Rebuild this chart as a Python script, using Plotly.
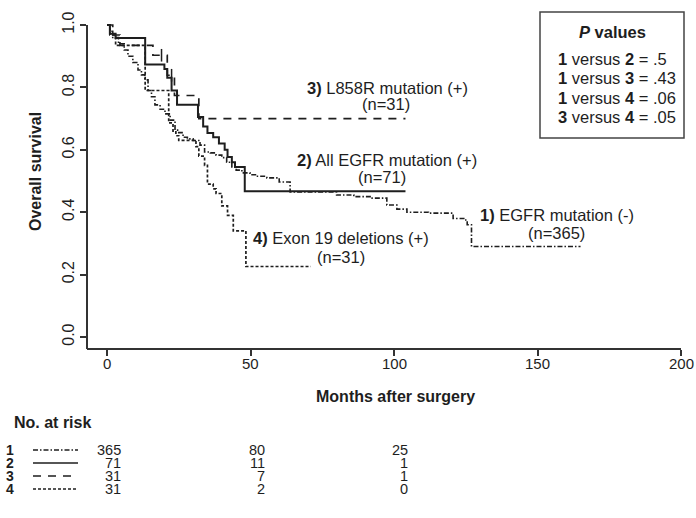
import plotly.graph_objects as go

# ---------------- data ----------------
# Group 1: EGFR mutation (-), n=365
g1_t = [0, 1, 2, 4, 6, 7.3, 9, 10.8, 12, 13.2, 14.3, 15.5, 16.7, 18.5, 20.2, 22, 23.7, 25, 26.5, 28,
        30, 32.4, 34, 36, 38, 40, 41.7, 43.5, 45, 47, 49.8, 52, 55.7, 60, 63.8, 80, 86, 92, 97.5,
        101, 104.5, 112, 120.6, 124.7, 125.5, 127, 165]
g1_s = [1.0, 0.98, 0.96, 0.94, 0.92, 0.90, 0.88, 0.856, 0.84, 0.824, 0.79, 0.77, 0.744, 0.73, 0.715,
        0.695, 0.663, 0.655, 0.64, 0.635, 0.63, 0.615, 0.593, 0.59, 0.583, 0.575, 0.56, 0.545, 0.535,
        0.526, 0.52, 0.515, 0.51, 0.497, 0.465, 0.455, 0.45, 0.445, 0.423, 0.41, 0.40, 0.397, 0.38,
        0.375, 0.36, 0.29, 0.29]
# Group 2: All EGFR mutation (+), n=71
g2_t = [0, 1, 3, 13.3, 20, 21, 22.5, 24.4, 31.7, 33.5, 35, 37, 39, 41, 42, 43.5, 44.6, 48, 104]
g2_s = [1.0, 0.972, 0.958, 0.873, 0.859, 0.831, 0.79, 0.744, 0.705, 0.675, 0.654, 0.64, 0.62, 0.60,
        0.577, 0.56, 0.545, 0.467, 0.467]
# Group 3: L858R mutation (+), n=31
g3_t = [0, 2, 4.5, 16, 21, 23.5, 32, 104]
g3_s = [1.0, 0.968, 0.935, 0.903, 0.839, 0.774, 0.70, 0.70]
g3_cens_t = [19, 22.5]
g3_cens_s = [0.903, 0.839]
# Group 4: Exon 19 deletions (+), n=31
g4_t = [0, 1, 3, 13.3, 21.5, 23, 24, 25, 31, 32, 34, 35, 37, 38, 40, 42, 44, 48.4, 71]
g4_s = [1.0, 0.968, 0.935, 0.79, 0.686, 0.66, 0.645, 0.63, 0.61, 0.58, 0.55, 0.49, 0.475, 0.46,
        0.42, 0.39, 0.34, 0.226, 0.226]

x_ticks = [0, 50, 100, 150, 200]
y_ticks = [0.0, 0.2, 0.4, 0.6, 0.8, 1.0]

risk_groups = ["1", "2", "3", "4"]
risk_times = [0, 50, 100]
risk_values = [[365, 80, 25], [71, 11, 1], [31, 7, 1], [31, 2, 0]]

curve_labels = [
    ("<b>3)</b> L858R mutation (+)", "(n=31)"),
    ("<b>2)</b> All EGFR mutation (+)", "(n=71)"),
    ("<b>1)</b> EGFR mutation (-)", "(n=365)"),
    ("<b>4)</b> Exon 19 deletions (+)", "(n=31)"),
]
pvalue_lines = ["<b>1</b> versus <b>2</b> = .5", "<b>1</b> versus <b>3</b> = .43",
                "<b>1</b> versus <b>4</b> = .06", "<b>3</b> versus <b>4</b> = .05"]

# ---------------- layout geometry ----------------
W, H = 696, 518
L, R, T, B = 87, 6, 12, 169
PW, PH = W - L - R, H - T - B
PX_PER_MONTH = 2.87
X0 = -20 / PX_PER_MONTH
XR = [X0, X0 + PW / PX_PER_MONTH]
YR = [-12 / 312, -12 / 312 + PH / 312]

def px(x, y):
    return (x - L) / PW, (H - B - y) / PH

INK = "#1e1e1e"
FONT = "Liberation Sans, Arial, Helvetica, sans-serif"

styles = {
    "1": dict(color=INK, width=1.6, dash="5px,2px,1.5px,2px"),
    "2": dict(color=INK, width=2.0, dash="solid"),
    "3": dict(color=INK, width=1.7, dash="8px,7px"),
    "4": dict(color=INK, width=1.7, dash="3px,2px"),
}

fig = go.Figure()
for key, t, s in [("1", g1_t, g1_s), ("2", g2_t, g2_s), ("3", g3_t, g3_s), ("4", g4_t, g4_s)]:
    fig.add_trace(go.Scatter(x=t, y=s, mode="lines", line=dict(shape="hv", **styles[key]),
                             showlegend=False, hoverinfo="skip"))
fig.add_trace(go.Scatter(x=g3_cens_t, y=g3_cens_s, mode="markers",
                         marker=dict(symbol="line-ns", size=9, line=dict(color=INK, width=1.5)),
                         showlegend=False, hoverinfo="skip"))

fig.update_layout(
    width=W, height=H, margin=dict(l=L, r=R, t=T, b=B),
    paper_bgcolor="white", plot_bgcolor="white",
    font=dict(family=FONT, color=INK, size=15),
    xaxis=dict(range=XR, tickvals=x_ticks, showticklabels=False,
               ticks="outside", ticklen=6, tickwidth=1.5, tickcolor="#333",
               showgrid=False, zeroline=False, showline=False),
    yaxis=dict(range=YR, tickvals=y_ticks, ticktext=[f"{v:.1f}" for v in y_ticks],
               ticks="outside", ticklen=6, tickwidth=1.5, tickcolor="#333",
               showgrid=False, zeroline=False, showline=False, tickangle=-90,
               tickfont=dict(size=16, family=FONT)),
)

shapes = []
# axis lines (L-shaped box)
shapes.append(dict(type="line", xref="paper", yref="y", x0=0, x1=0, y0=YR[0], y1=1.0,
                   line=dict(color="#333", width=2)))
shapes.append(dict(type="line", xref="x", yref="paper", x0=XR[0], x1=200, y0=0, y1=0,
                   line=dict(color="#333", width=2)))

ann = []

def text_at(x, y, text, size=16.5, xanchor="center", angle=0):
    ax, ay = px(x, y)
    ann.append(dict(x=ax, y=ay, xref="paper", yref="paper", text=text, showarrow=False,
                    xanchor=xanchor, yanchor="middle", textangle=angle,
                    font=dict(size=size)))

# x tick labels
_, tly = px(0, 363)
for v in x_ticks:
    ann.append(dict(x=v, y=tly, xref="x", yref="paper", text=str(v), showarrow=False,
                    xanchor="center", yanchor="middle", font=dict(size=15)))

# axis titles
text_at(35, 172, "<b>Overall survival</b>", size=16, angle=-90)
text_at(395, 396, "<b>Months after surgery</b>", size=16)

# curve labels
label_pos = [((387, 88), (386, 104)), ((387, 160), (382, 177)),
             ((557, 215), (556, 233)), ((341, 238), (341, 257))]
for (l1, l2), (p1, p2) in zip(curve_labels, label_pos):
    text_at(p1[0], p1[1], l1)
    text_at(p2[0], p2[1], l2)

# P-values box
bx0, by0 = px(540, 12)
bx1, by1 = px(684, 138)
shapes.append(dict(type="rect", xref="paper", yref="paper", x0=bx0, x1=bx1, y0=by1, y1=by0,
                   line=dict(color="#444", width=1.5), fillcolor="white"))
text_at(612, 32, "<b><i>P</i> values</b>")
for i, line in enumerate(pvalue_lines):
    text_at(556, 59 + i * 19.3, line, xanchor="left")

# risk table
text_at(12, 422, "<b>No. at risk</b>", size=16, xanchor="left")
row_y = [450, 463, 476, 489]
for g, vals, y in zip(risk_groups, risk_values, row_y):
    text_at(10, y, f"<b>{g}</b>", size=14)
    sx0, sy = px(33, y)
    sx1, _ = px(78, y)
    st = styles[g]
    shapes.append(dict(type="line", xref="paper", yref="paper", x0=sx0, x1=sx1, y0=sy, y1=sy,
                       line=dict(color=INK, width=st["width"] * 0.8, dash=st["dash"])))
    for tt, v in zip(risk_times, vals):
        _, ay = px(0, y)
        ann.append(dict(x=tt, y=ay, xref="x", yref="paper", text=str(v), showarrow=False,
                        xanchor="right", yanchor="middle", xshift=16, font=dict(size=14.5)))

fig.update_layout(shapes=shapes, annotations=ann)
fig.write_html("out.html")
